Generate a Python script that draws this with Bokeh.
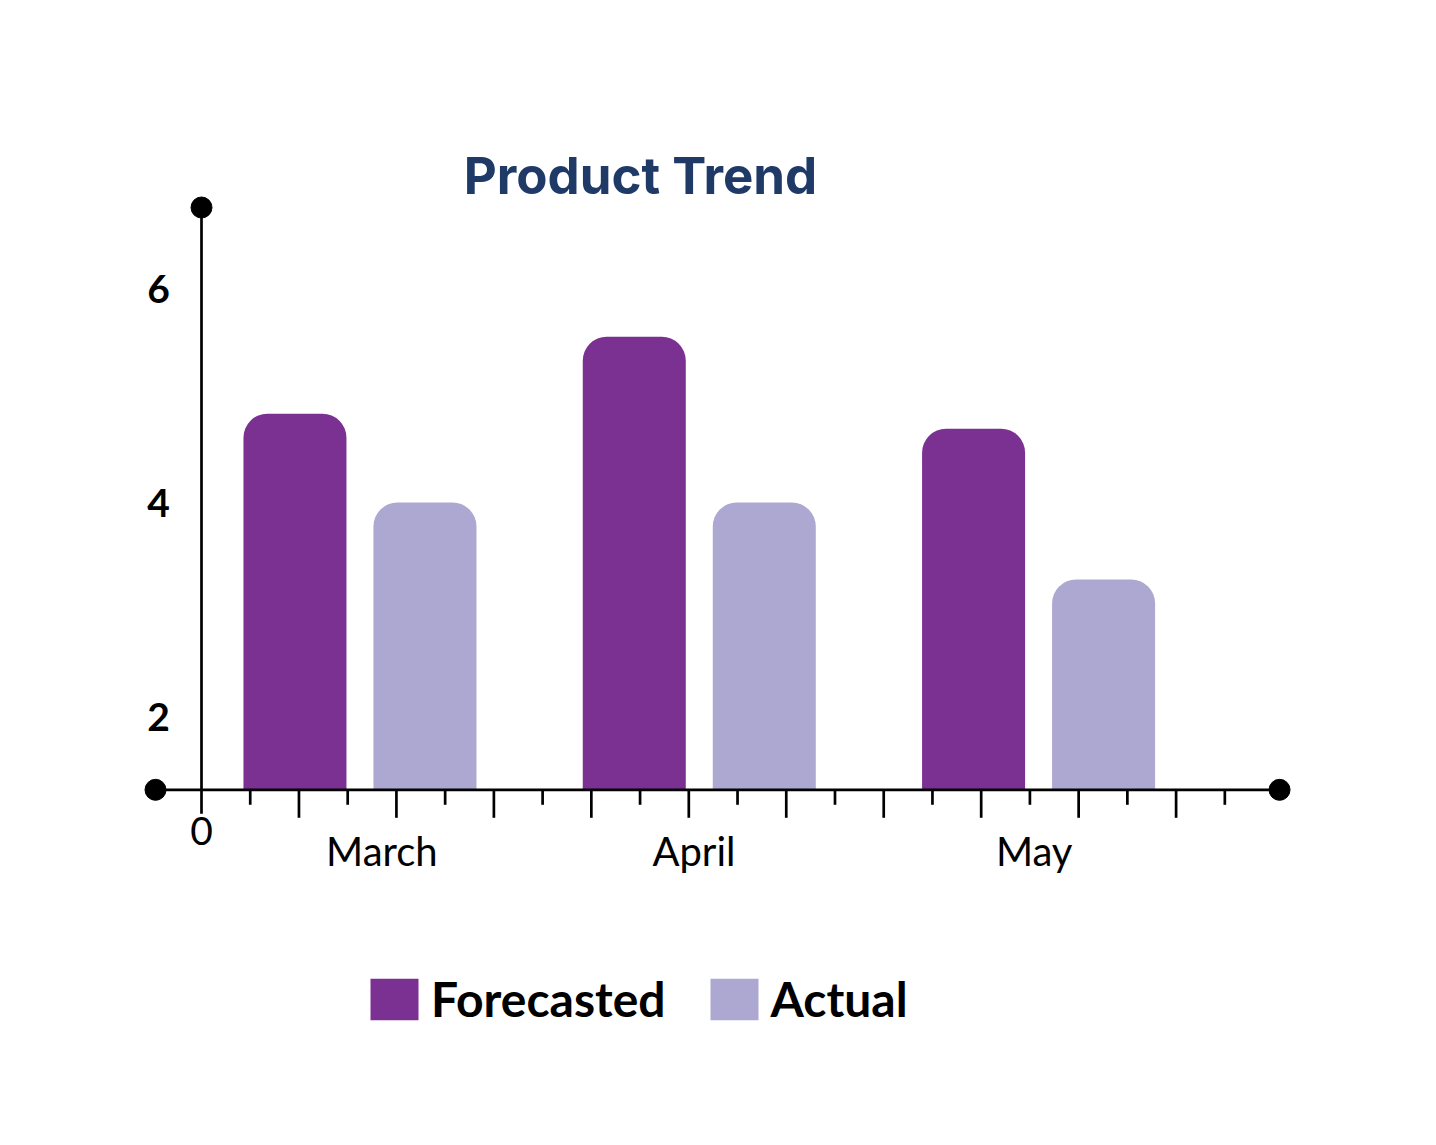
from bokeh.plotting import figure
from bokeh.models import Range1d, Label, Legend, LegendItem, ColumnDataSource
from bokeh.core.properties import value
from bokeh.embed import file_html
from bokeh.resources import INLINE

# ---------------- data ----------------
months = ["March", "April", "May"]
forecasted = [4.83, 5.55, 4.69]
actual = [4.0, 4.0, 3.28]
y_ticks = [2, 4, 6]
origin_label = "0"
series_names = ["Forecasted", "Actual"]
title_text = "Product Trend"

# ---------------- style / layout ----------------
W, H = 1420, 1129
PX_X = 48.73          # pixels per x unit (one small tick step)
PX_Y = 107.0          # pixels per y unit
ORIGIN_PX = 201       # canvas x of the vertical axis
TOP_TICK_PX = 288     # canvas y of the top tick label
AXIS_PX = 789.3       # canvas y of the horizontal axis

top_tick = y_ticks[-1]
x_start = -ORIGIN_PX / PX_X
x_end = (W - ORIGIN_PX) / PX_X
y_end = top_tick + TOP_TICK_PX / PX_Y
y_start = top_tick - (H - TOP_TICK_PX) / PX_Y
base = top_tick - (AXIS_PX - TOP_TICK_PX) / PX_Y

FORE_COLOR = "#7B3192"
ACT_COLOR = "#ADA8D1"
TITLE_COLOR = "#1F3A66"
FONT = "Lato"
TITLE_FONT = "Inter"

GROUP0, GROUP_STEP = 3.252, 6.963
BAR_OFFSET, BAR_W = 1.334, 2.114
label_shift = [0.45, -0.11, -0.09]

n_small_ticks = 21
long_len, short_len, origin_ext = 28, 15, 24

centers = [GROUP0 + i * GROUP_STEP for i in range(len(months))]

p = figure(width=W, height=H, x_range=Range1d(x_start, x_end),
           y_range=Range1d(y_start, y_end), output_backend="svg",
           toolbar_location=None, min_border=0, outline_line_color=None,
           x_axis_location=None, y_axis_location=None,
           background_fill_color="white", border_fill_color="white")
p.grid.visible = False

src_f = ColumnDataSource(dict(x=[c - BAR_OFFSET for c in centers], top=forecasted, month=months))
src_a = ColumnDataSource(dict(x=[c + BAR_OFFSET for c in centers], top=actual, month=months))
r_f = p.vbar(x="x", top="top", bottom=base, width=BAR_W, source=src_f,
             fill_color=FORE_COLOR, line_color=None, border_radius=(24, 24, 0, 0))
r_a = p.vbar(x="x", top="top", bottom=base, width=BAR_W, source=src_a,
             fill_color=ACT_COLOR, line_color=None, border_radius=(24, 24, 0, 0))

# axes drawn as glyphs
left_end = -46 / PX_X
right_end = (n_small_ticks + 1) + 6 / PX_X
y_top = top_tick + (TOP_TICK_PX - 207) / PX_Y
p.line([left_end, right_end], [base, base], line_color="black", line_width=2.7)
p.line([0, 0], [base - origin_ext / PX_Y, y_top], line_color="black", line_width=2.7)

ks = list(range(1, n_small_ticks + 1))
p.segment(x0=ks, y0=[base] * len(ks), x1=ks,
          y1=[base - (long_len if k % 2 == 0 else short_len) / PX_Y for k in ks],
          line_color="black", line_width=2.7)

p.scatter(x=[left_end, right_end, 0], y=[base, base, y_top], size=21,
          fill_color="black", line_color="black")

# tick labels
p.text(x=[-43 / PX_X] * len(y_ticks), y=y_ticks,
       text=[str(t) for t in y_ticks], text_font=value(FONT), text_font_style="bold",
       text_font_size=value("39px"), text_align="center", text_baseline="middle",
       text_color="black")
p.text(x=[0], y=[base - 41 / PX_Y], text=[origin_label], text_font=value(FONT),
       text_font_size=value("39px"), text_align="center", text_baseline="middle",
       text_color="black")
p.text(x=[c + s for c, s in zip(centers, label_shift)], y=[base - 61 / PX_Y] * len(months),
       text=months, text_font=value(FONT), text_font_size=value("40px"),
       text_align="center", text_baseline="middle", text_color="black")

# title
p.add_layout(Label(x=(640 - ORIGIN_PX) / PX_X, y=top_tick + (TOP_TICK_PX - 175) / PX_Y,
                   text=title_text, text_font=TITLE_FONT, text_font_style="bold",
                   text_font_size="51px", text_color=TITLE_COLOR, text_align="center",
                   text_baseline="middle"))

legend = Legend(items=[LegendItem(label=series_names[0], renderers=[r_f]),
                       LegendItem(label=series_names[1], renderers=[r_a])],
                location=(364, 102), orientation="horizontal",
                glyph_width=60, glyph_height=52, label_standoff=7, spacing=38,
                label_text_font=FONT, label_text_font_style="bold",
                label_text_font_size="48px", label_text_color="black",
                padding=0, margin=0, border_line_alpha=0, background_fill_alpha=0)
p.add_layout(legend)

open("out.html", "w").write(file_html(p, INLINE))
